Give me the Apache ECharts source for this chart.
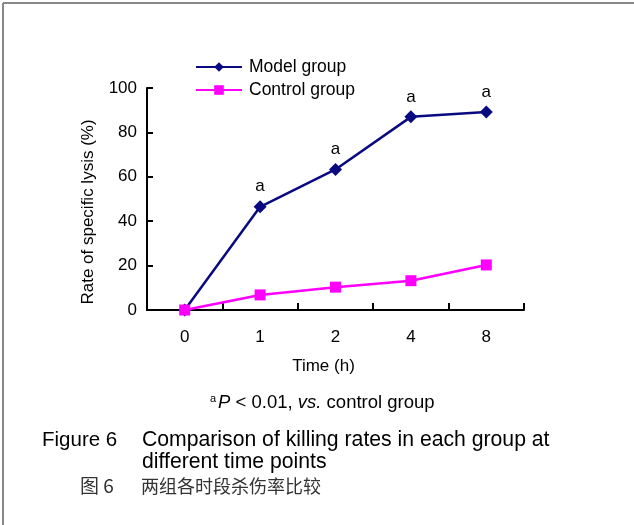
<!DOCTYPE html>
<html>
<head>
<meta charset="utf-8">
<script src="https://cdn.jsdelivr.net/npm/echarts@6/dist/echarts.min.js"></script>
<style>
  html, body { margin: 0; padding: 0; background: #fff; }
  #main { width: 634px; height: 525px; }
</style>
</head>
<body>
<div id="main"></div>
<script>
// 时间点与两组数据
const timePoints = ['0', '1', '2', '4', '8'];
const modelGroup = [0, 46.5, 63.3, 87, 89.2];
const controlGroup = [0, 6.8, 10.3, 13.2, 20.3];
const sigMarks = ['', 'a', 'a', 'a', 'a']; // P < 0.01 标记
const yTicks = [0, 20, 40, 60, 80, 100];

const font = 'Liberation Sans, Arial, sans-serif';
const chart = echarts.init(document.getElementById('main'), null, { renderer: 'canvas' });

const option = {
  backgroundColor: '#fff',
  animation: false,
  textStyle: { fontFamily: font },
  grid: { left: 147, top: 88, right: 110, bottom: 215 },
  legend: {
    orient: 'vertical',
    left: 195,
    top: 58,
    padding: 0,
    itemWidth: 46,
    itemHeight: 12,
    itemGap: 5,
    selectedMode: false,
    textStyle: { fontSize: 17.5, color: '#000', fontFamily: font, padding: [0, 0, 0, 2] },
    data: ['Model group', 'Control group']
  },
  xAxis: {
    type: 'category',
    data: timePoints,
    boundaryGap: true,
    name: 'Time (h)',
    nameLocation: 'middle',
    nameGap: 48,
    nameTextStyle: { fontSize: 17, color: '#000', padding: [0, 24, 0, 0] },
    axisLine: { lineStyle: { color: '#000', width: 2 } },
    axisTick: { show: true, inside: true, length: 7, lineStyle: { color: '#000', width: 2 } },
    axisLabel: { fontSize: 17, color: '#000', margin: 19 },
    splitLine: { show: false }
  },
  yAxis: {
    type: 'value',
    min: yTicks[0],
    max: yTicks[yTicks.length - 1],
    interval: 20,
    name: 'Rate of specific lysis (%)',
    nameLocation: 'middle',
    nameGap: 50,
    nameTextStyle: { fontSize: 17, color: '#000', padding: [0, 26, 0, 0] },
    axisLine: { show: true, lineStyle: { color: '#000', width: 2 } },
    axisTick: { show: true, inside: true, length: 6, lineStyle: { color: '#000', width: 2 } },
    axisLabel: { fontSize: 17, color: '#000', margin: 10 },
    splitLine: { show: false }
  },
  series: [
    {
      name: 'Model group',
      type: 'line',
      data: modelGroup,
      symbol: 'diamond',
      symbolSize: 13,
      lineStyle: { color: '#0a0a80', width: 2.5 },
      itemStyle: { color: '#0a0a80' },
      label: {
        show: true,
        position: 'top',
        distance: 5,
        fontSize: 17,
        color: '#000',
        formatter: function (params) {
          return sigMarks[params.dataIndex];
        }
      },
      z: 3
    },
    {
      name: 'Control group',
      type: 'line',
      data: controlGroup,
      symbol: 'rect',
      symbolSize: 11,
      lineStyle: { color: '#ff00ff', width: 2.5 },
      itemStyle: { color: '#ff00ff' },
      z: 4
    }
  ],
  graphic: [
    // 外框
    { type: 'line', shape: { x1: 3, y1: 3, x2: 634, y2: 3 }, style: { stroke: '#888', lineWidth: 2 } },
    { type: 'line', shape: { x1: 3, y1: 3, x2: 3, y2: 525 }, style: { stroke: '#888', lineWidth: 2 } },
    // 注释
    {
      type: 'text',
      left: 210,
      top: 393,
      style: {
        text: '{sup|a}{it|P} < 0.01, {it|vs.} control group',
        fontSize: 18.5,
        fill: '#000',
        fontFamily: font,
        rich: {
          sup: { fontSize: 11, verticalAlign: 'top', padding: [0, 2, 9, 0], fontFamily: font },
          it: { fontStyle: 'italic', fontSize: 18.5, fontFamily: font }
        }
      }
    },
    { type: 'text', left: 42, top: 430, style: { text: 'Figure 6', fontSize: 20.5, fill: '#000', fontFamily: font } },
    { type: 'text', left: 142, top: 430, style: { text: 'Comparison of killing rates in each group at', fontSize: 21.2, fill: '#000', fontFamily: font } },
    { type: 'text', left: 142, top: 452, style: { text: 'different time points', fontSize: 21.2, fill: '#000', fontFamily: font } },
    { type: 'text', left: 80, top: 476, style: { text: '图 6', fontSize: 19, fill: '#333', fontFamily: 'Noto Sans CJK SC, ' + font } },
    { type: 'text', left: 141, top: 477, style: { text: '两组各时段杀伤率比较', fontSize: 18, fill: '#333', fontFamily: 'Noto Sans CJK SC' } }
  ]
};

chart.setOption(option);
</script>
</body>
</html>
